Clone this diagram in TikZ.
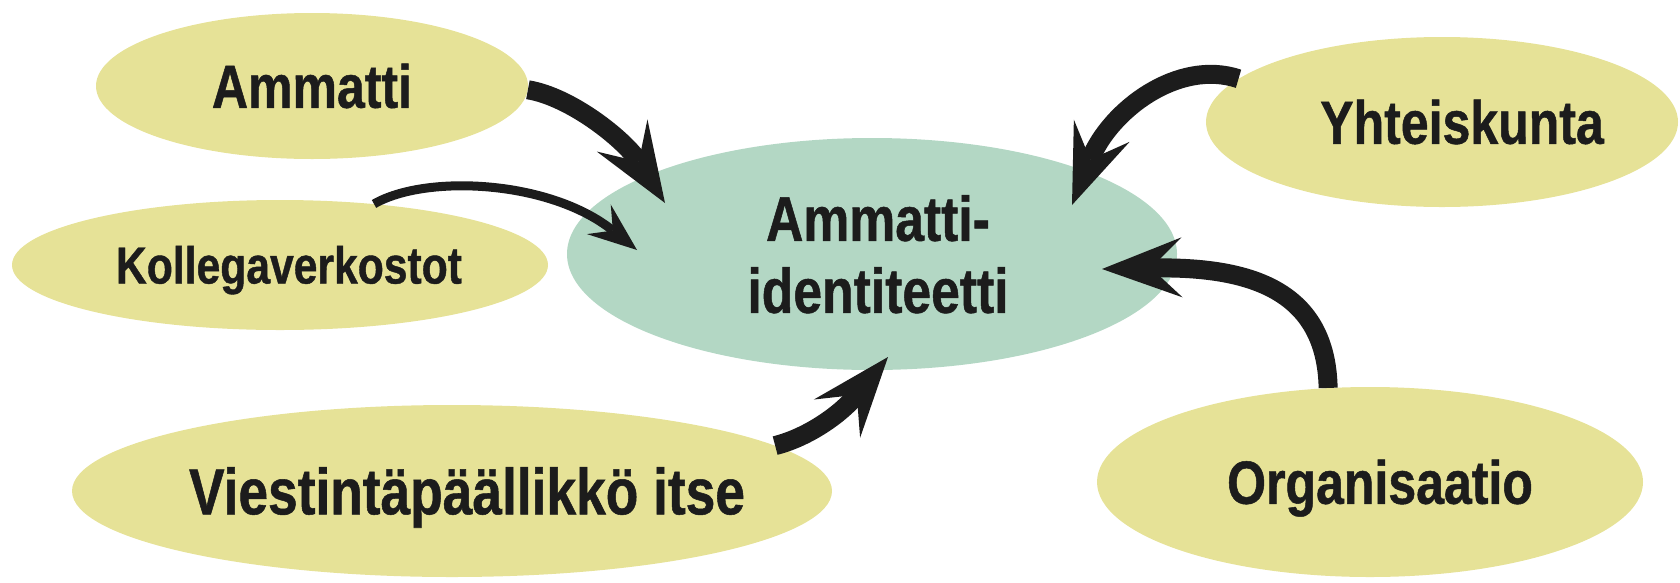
\documentclass[tikz,border=0pt]{standalone}
\usepackage{fontspec}
\newfontfamily\cond[FakeStretch=0.82,FakeBold=0.8]{Liberation Sans}
\usetikzlibrary{shapes.geometric,arrows.meta}
\definecolor{yel}{HTML}{E6E297}
\definecolor{grn}{HTML}{B3D7C4}
\definecolor{ink}{HTML}{1C1C1C}
\newcommand{\shifted}[2]{\makebox[0pt]{\hspace*{#1}#2}}
\begin{document}
\begin{tikzpicture}[x=1pt,y=-1pt,
  blob/.style={ellipse, inner sep=0pt, text=ink, text depth=0pt},
  yb/.style={blob, fill=yel},
  big/.style={font={\cond\bfseries\fontsize{61}{74}\selectfont}, text height=43.5pt},
  bigarrow/.style={draw=ink, line width=19pt, -{Stealth[length=80pt,width=60pt,inset=31pt,line width=0pt]}},
  smallarrow/.style={draw=ink, line width=9pt, -{Stealth[length=49pt,width=38pt,inset=18pt,line width=0pt]}}]
\useasboundingbox (0,0) rectangle (1680,582);
% nodes
\node[yb, big, minimum width=432pt, minimum height=146pt] (amm) at (312,86) {\shifted{0pt}{Ammatti}};
\node[yb, minimum width=536pt, minimum height=130pt,
      font={\cond\bfseries\fontsize{52}{62}\selectfont}, text height=37pt] (kol) at (280,265) {\shifted{18pt}{Kollegaverkostot}};
\node[yb, minimum width=760pt, minimum height=172pt,
      font={\cond\bfseries\fontsize{65}{78}\selectfont}, text height=46.5pt] (vie) at (452,491) {\shifted{30pt}{Viestintäpäällikkö itse}};
\node[blob, fill=grn, minimum width=610pt, minimum height=232pt, align=center,
      font={\cond\bfseries\fontsize{63}{72}\selectfont}] (ai) at (872,254) {\hspace*{12pt}Ammatti-\\\hspace*{12pt}identiteetti};
\node[yb, big, minimum width=472pt, minimum height=170pt] (yht) at (1442,122) {\shifted{40pt}{Yhteiskunta}};
\node[yb, big, minimum width=546pt, minimum height=190pt] (org) at (1370,482) {\shifted{20pt}{Organisaatio}};
% arrow end points inside the central ellipse
\coordinate (ai-a) at ([shift={(-207,-51)}]ai.center);
\coordinate (ai-k) at ([shift={(-235,-4)}]ai.center);
\coordinate (ai-v) at ([shift={(16,103)}]ai.center);
\coordinate (ai-y) at ([shift={(200,-49)}]ai.center);
\coordinate (ai-o) at ([shift={(230,15)}]ai.center);
% connectors
\draw[bigarrow] (amm.-1) .. controls +(43,7) and +(-40,-63) .. (ai-a);
\draw[smallarrow] (kol.33) .. controls +(52,-30) and +(-87,-70) .. (ai-k);
\draw[bigarrow] (vie.8.6) .. controls +(32,-8) and +(-48,58) .. (ai-v);
\draw[bigarrow] (yht.168) .. controls +(-60,-20) and +(38,-95) .. (ai-y);
\draw[bigarrow] (org.114.6) .. controls +(-2,-98) and +(148,-3) .. (ai-o);
\end{tikzpicture}
\end{document}
